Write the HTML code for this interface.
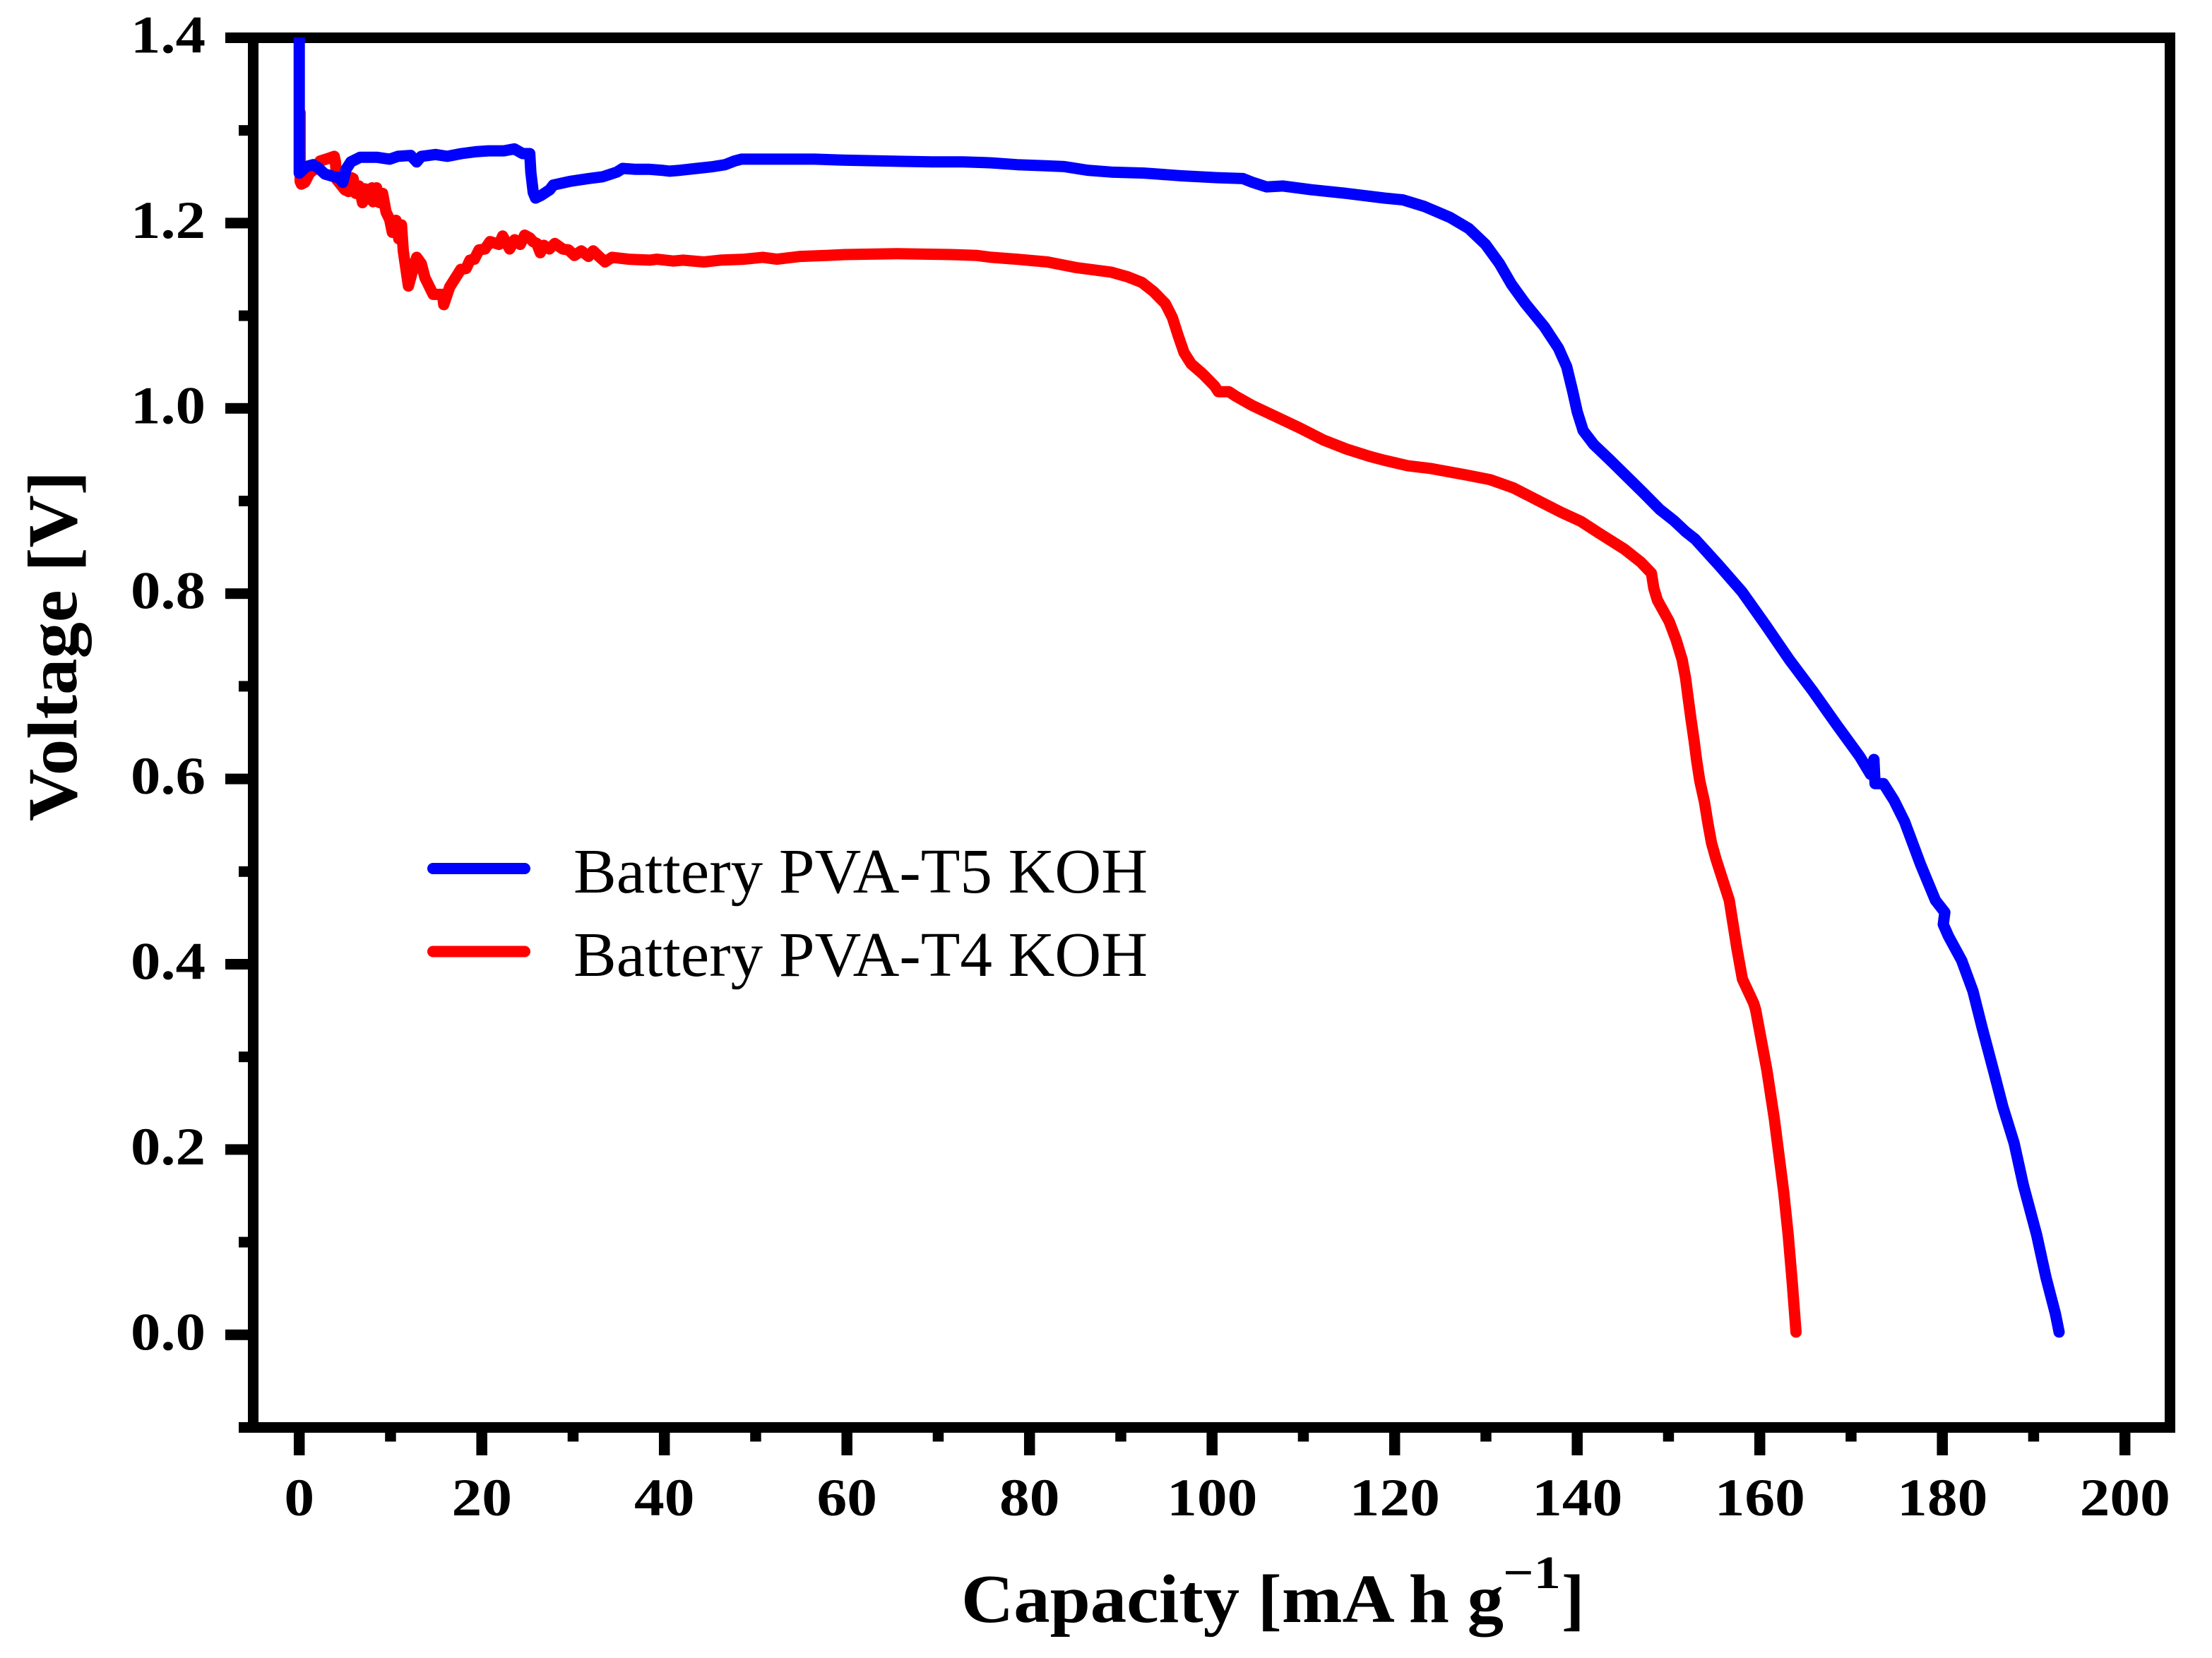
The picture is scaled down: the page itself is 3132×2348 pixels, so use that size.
<!DOCTYPE html>
<html lang="en">
<head>
<meta charset="utf-8">
<title>Battery discharge curves</title>
<style>
html,body{margin:0;padding:0;background:#fff;width:3132px;height:2348px;overflow:hidden}
svg{display:block}
text{font-family:"Liberation Serif","DejaVu Serif",serif;fill:#000}
.bold{font-weight:bold}
</style>
</head>
<body>
<svg id="chart" xmlns="http://www.w3.org/2000/svg" width="3132" height="2348" viewBox="0 0 3132 2348">
  <defs>
    <clipPath id="plot-clip"><rect x="0" y="53" width="3132" height="2295"/></clipPath>
  </defs>
  <rect x="0" y="0" width="3132" height="2348" fill="#fff"/>
  <g id="axes"></g>
  <g id="series"></g>
  <g>
    <line x1="613" x2="743" y1="1230" y2="1230" stroke="#0000ff" stroke-width="16" stroke-linecap="round"/>
    <text x="812" y="1264" font-size="90" textLength="813" lengthAdjust="spacingAndGlyphs">Battery PVA-T5 KOH</text>
    <line x1="613" x2="743" y1="1347.5" y2="1347.5" stroke="#ff0000" stroke-width="16" stroke-linecap="round"/>
    <text x="812" y="1382" font-size="90" textLength="813" lengthAdjust="spacingAndGlyphs">Battery PVA-T4 KOH</text>
  </g>
  <g>
    <text class="bold" x="1361" y="2297" font-size="98" textLength="768" lengthAdjust="spacingAndGlyphs">Capacity [mA h g</text>
    <text class="bold" x="2128" y="2249" font-size="66" textLength="82" lengthAdjust="spacingAndGlyphs">&#8722;1</text>
    <text class="bold" x="2211" y="2297" font-size="98">]</text>
  </g>
  <text class="bold" transform="translate(108,1163) rotate(-90)" font-size="100" textLength="496" lengthAdjust="spacingAndGlyphs">Voltage [V]</text>
</svg>
<script>
const xMajorTicks = [0,20,40,60,80,100,120,140,160,180,200];
const xMinorTicks = [10,30,50,70,90,110,130,150,170,190];
const yMajorTicks = [0,0.2,0.4,0.6,0.8,1.0,1.2,1.4];
const yMinorTicks = [0.1,0.3,0.5,0.7,0.9,1.1,1.3];

const capacityT5 = [0,0,0.02,0.75,1.52,2.03,2.81,3.84,4.36,4.77,5.13,5.65,6.68,8.48,9.9,10.8,12.22,12.87,13.38,14.93,16.22,17.77,19.31,20.73,22.41,23.57,24.47,25.25,25.37,25.63,25.89,26.53,27.44,27.82,29.63,31.69,33.24,34.79,35.43,36.85,38.4,39.69,40.59,41.75,43.56,45.36,46.65,47.68,48.46,51.29,56.45,59.55,64.19,69.35,72.7,75.8,78.63,81.47,83.79,86.37,88.95,92.56,96.68,100.55,103.39,104.42,105.97,107.77,110.87,114.74,118.86,120.92,123.24,126.08,128.14,129.95,131.5,132.79,134.33,136.4,137.94,138.85,139.49,140.01,140.65,141.81,143.62,145.68,147.23,149.03,150.58,151.87,152.9,155.48,158.06,160.64,163.22,165.8,168.38,170.96,172.12,172.5,172.63,173.54,173.54,174.7,175.86,177.6,179.24,180.27,180.1,180.68,182.12,183.35,184.37,185.61,186.63,187.86,188.89,190.33,191.35,192.38,192.79];
const voltageT5 = [1.42,1.254,1.254,1.261,1.263,1.260,1.253,1.250,1.249,1.244,1.258,1.266,1.271,1.271,1.269,1.272,1.273,1.266,1.272,1.274,1.272,1.275,1.277,1.278,1.278,1.280,1.275,1.275,1.255,1.233,1.227,1.230,1.236,1.241,1.245,1.248,1.250,1.255,1.259,1.258,1.258,1.257,1.256,1.257,1.259,1.261,1.263,1.267,1.269,1.269,1.269,1.268,1.267,1.266,1.266,1.265,1.263,1.262,1.261,1.257,1.255,1.254,1.251,1.249,1.248,1.244,1.239,1.240,1.236,1.232,1.227,1.225,1.218,1.206,1.194,1.177,1.156,1.134,1.113,1.088,1.065,1.045,1.019,0.996,0.976,0.961,0.944,0.924,0.909,0.891,0.879,0.867,0.859,0.831,0.802,0.766,0.729,0.695,0.659,0.624,0.605,0.621,0.595,0.595,0.595,0.577,0.554,0.508,0.469,0.456,0.443,0.430,0.404,0.371,0.331,0.285,0.246,0.207,0.161,0.108,0.062,0.023,0.003];

const capacityT4 = [0.1,0.1,0.23,0.62,1.13,1.65,2.29,2.94,3.84,3.97,4.1,5.0,5.39,5.7,5.9,6.2,6.55,6.93,7.2,7.6,7.97,8.1,8.48,8.8,9.13,9.51,9.9,10.2,10.6,10.9,11.2,11.4,11.96,12.35,12.87,13.38,13.77,14.67,15.7,15.83,16.48,17.25,17.7,18.28,18.7,19.18,19.7,20.34,20.9,21.89,22.28,23.05,23.6,24.21,24.7,25.25,25.6,26.02,26.41,26.79,27.4,28.0,28.86,29.5,30.14,30.9,31.69,32.2,32.72,33.5,34.27,36.08,38.4,39.17,40.98,42.01,44.33,46.14,48.72,50.78,52.33,54.91,57.74,59.81,65.48,71.41,74.25,75.8,78.63,81.98,85.08,88.95,90.75,92.3,93.59,94.88,95.65,96.3,96.94,97.71,99,100.29,100.68,101.84,102.61,104.42,107,109.58,112.16,114.74,117.31,118.86,121.44,124.02,127.89,130.47,133.04,135.62,138.2,140.4,142.59,145.17,146.97,148.13,148.39,148.78,150.07,150.84,151.49,151.87,152.13,152.47,152.78,153.08,153.42,153.94,154.32,154.71,155.22,156.66,157.49,158.1,159.33,159.54,160.77,161.59,162.62,163.11,163.56,163.97];
const voltageT4 = [1.319,1.245,1.242,1.244,1.254,1.258,1.267,1.269,1.272,1.266,1.247,1.236,1.234,1.249,1.248,1.232,1.240,1.222,1.237,1.226,1.238,1.223,1.238,1.222,1.232,1.212,1.204,1.190,1.203,1.183,1.198,1.170,1.132,1.146,1.163,1.156,1.141,1.123,1.123,1.112,1.131,1.143,1.150,1.151,1.160,1.161,1.171,1.172,1.180,1.177,1.186,1.172,1.182,1.177,1.187,1.184,1.180,1.178,1.168,1.176,1.172,1.178,1.172,1.171,1.165,1.170,1.164,1.170,1.165,1.158,1.163,1.161,1.160,1.161,1.159,1.160,1.158,1.160,1.161,1.163,1.161,1.164,1.165,1.166,1.167,1.166,1.165,1.163,1.161,1.158,1.152,1.147,1.142,1.136,1.126,1.113,1.098,1.078,1.060,1.048,1.037,1.024,1.018,1.018,1.013,1.003,0.991,0.979,0.966,0.956,0.948,0.944,0.938,0.935,0.928,0.923,0.914,0.901,0.888,0.878,0.864,0.848,0.834,0.822,0.806,0.793,0.770,0.750,0.729,0.709,0.689,0.664,0.643,0.620,0.598,0.575,0.552,0.531,0.513,0.469,0.417,0.384,0.358,0.351,0.286,0.233,0.154,0.108,0.056,0.003];

const SVG_NS = 'http://www.w3.org/2000/svg';
const xScale = function (c) { return 423.7 + c * 12.925; };
const yScale = function (v) { return 1890.3 - v * 1312; };

function make(tag, parent, attrs) {
  const el = document.createElementNS(SVG_NS, tag);
  Object.keys(attrs).forEach(function (k) { el.setAttribute(k, attrs[k]); });
  parent.appendChild(el);
  return el;
}

const axes = document.getElementById('axes');
const series = document.getElementById('series');

const leftSpine = make('rect', axes, {x: 351, y: 46, width: 15, height: 1983, fill: '#000'});


const rightSpine = make('rect', axes, {x: 3065, y: 46, width: 15, height: 1983, fill: '#000'});


const topSpine = make('rect', axes, {x: 351, y: 46, width: 2729, height: 15, fill: '#000'});


const bottomSpine = make('rect', axes, {x: 338, y: 2014, width: 2742, height: 15, fill: '#000'});



xMajorTicks.forEach(function (c) {
  const tick = make('rect', axes, {x: xScale(c) - 7.75, y: 2028, width: 15.5, height: 33, fill: '#000'});
  
  
  const label = make('text', axes, {transform: 'translate(' + xScale(c) + ',2146) scale(1.14,1)', 'text-anchor': 'middle', 'font-size': 75, 'class': 'bold'});
  
  
  label.textContent = String(c);
});
xMinorTicks.forEach(function (c) {
  const tick = make('rect', axes, {x: xScale(c) - 7.75, y: 2028, width: 15.5, height: 13.5, fill: '#000'});
  
  
});
yMajorTicks.forEach(function (v) {
  const tick = make('rect', axes, {x: 319, y: yScale(v) - 7.5, width: 33, height: 15, fill: '#000'});
  
  
  const label = make('text', axes, {transform: 'translate(291,' + (yScale(v) + 21) + ') scale(1.13,1)', 'text-anchor': 'end', 'font-size': 75, 'class': 'bold'});
  
  
  label.textContent = v.toFixed(1);
});
yMinorTicks.forEach(function (v) {
  const tick = make('rect', axes, {x: 338, y: yScale(v) - 7.5, width: 14, height: 15, fill: '#000'});
  
  
});

function linePath(xs, ys) {
  return xs.map(function (c, i) {
    return (i ? 'L' : 'M') + xScale(c).toFixed(1) + ' ' + yScale(ys[i]).toFixed(1);
  }).join(' ');
}

const lineT4 = make('path', series, {d: linePath(capacityT4, voltageT4), fill: 'none', stroke: '#ff0000', 'stroke-width': 16, 'stroke-linejoin': 'round', 'stroke-linecap': 'round'});


const lineT5 = make('path', series, {d: linePath(capacityT5, voltageT5), fill: 'none', stroke: '#0000ff', 'stroke-width': 16, 'stroke-linejoin': 'round', 'stroke-linecap': 'round', 'clip-path': 'url(#plot-clip)'});


</script>
</body>
</html>
